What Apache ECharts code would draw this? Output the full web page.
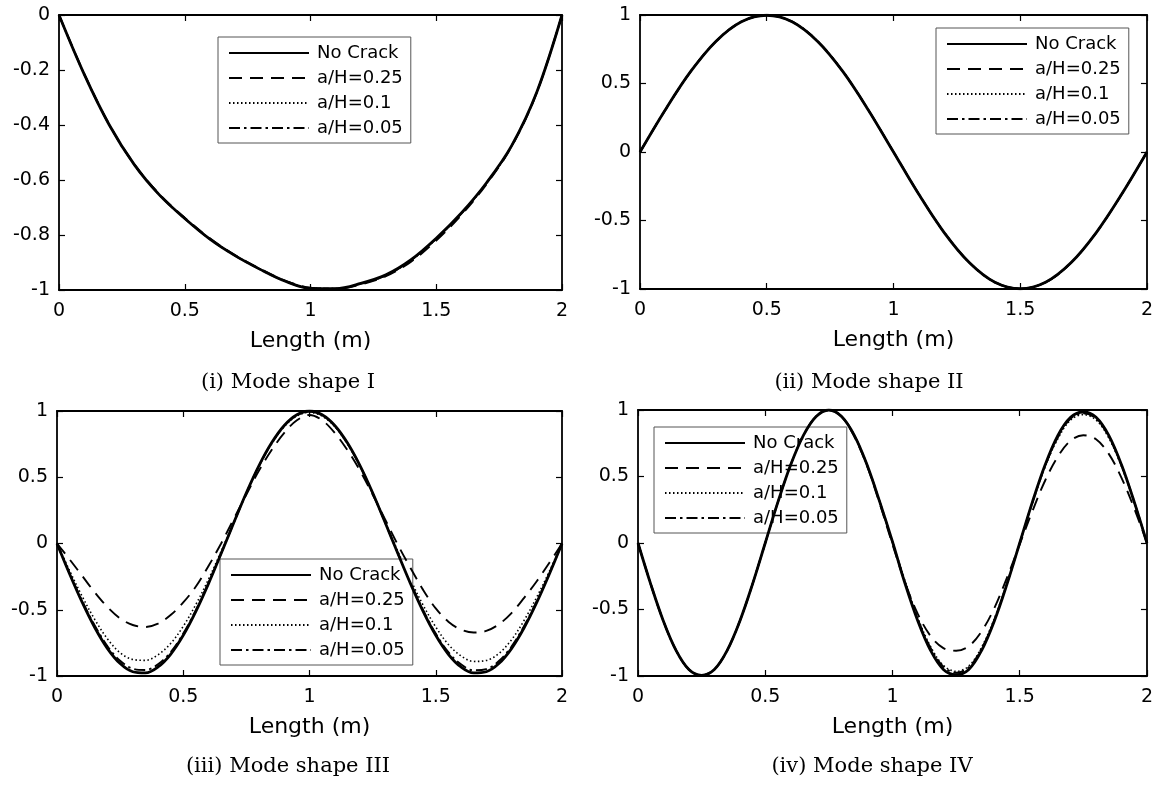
<!DOCTYPE html>
<html>
<head>
<meta charset="utf-8">
<script src="https://cdn.jsdelivr.net/npm/echarts@6/dist/echarts.min.js"></script>
<style>
html,body{margin:0;padding:0;background:#fff;}
#chart{width:1156px;height:785px;}
</style>
</head>
<body>
<div id="chart"></div>
<script>
// ---------- data ----------
var seriesNames = ['No Crack', 'a/H=0.25', 'a/H=0.1', 'a/H=0.05'];
var xTicks = ['0', '0.5', '1', '1.5', '2'];
var captions = ['(i) Mode shape I', '(ii) Mode shape II', '(iii) Mode shape III', '(iv) Mode shape IV'];
var axisTitle = 'Length (m)';

// positions along the beam (m)
var xCoarse = [0,0.1,0.2,0.3,0.4,0.5,0.6,0.7,0.8,0.9,1.0,1.1,1.2,1.3,1.4,1.5,1.6,1.7,1.8,1.9,2.0];
var xFine = [0,0.05,0.1,0.15,0.2,0.25,0.3,0.35,0.4,0.45,0.5,0.55,0.6,0.65,0.7,0.75,0.8,0.85,0.9,0.95,
             1.0,1.05,1.1,1.15,1.2,1.25,1.3,1.35,1.4,1.45,1.5,1.55,1.6,1.65,1.7,1.75,1.8,1.85,1.9,1.95,2.0];

// Mode shape I (xCoarse)
var m1NoCrack = [0,-0.215,-0.40,-0.545,-0.655,-0.74,-0.815,-0.875,-0.925,-0.968,-0.994,-0.995,-0.976,-0.945,-0.89,-0.812,-0.72,-0.61,-0.475,-0.28,0];
var m1a025    = [0,-0.213,-0.398,-0.543,-0.652,-0.737,-0.812,-0.873,-0.923,-0.966,-0.992,-0.996,-0.98,-0.95,-0.897,-0.82,-0.727,-0.615,-0.478,-0.282,0];
var m1a010    = [0,-0.214,-0.399,-0.544,-0.654,-0.739,-0.814,-0.874,-0.924,-0.967,-0.993,-0.995,-0.978,-0.947,-0.892,-0.814,-0.722,-0.612,-0.476,-0.281,0];
var m1a005    = [0,-0.215,-0.40,-0.545,-0.655,-0.74,-0.815,-0.875,-0.925,-0.968,-0.994,-0.995,-0.977,-0.946,-0.891,-0.813,-0.721,-0.611,-0.475,-0.28,0];

// Mode shape II (xCoarse)
var m2NoCrack = [0,0.309,0.588,0.809,0.951,0.998,0.951,0.809,0.588,0.309,0,-0.309,-0.588,-0.809,-0.951,-0.998,-0.951,-0.809,-0.588,-0.309,0];
var m2a025    = [0,0.307,0.586,0.807,0.95,0.997,0.952,0.811,0.59,0.31,0.002,-0.306,-0.585,-0.807,-0.95,-0.997,-0.952,-0.81,-0.589,-0.31,0];
var m2a010    = [0,0.308,0.587,0.808,0.951,0.998,0.951,0.81,0.589,0.309,0.001,-0.308,-0.587,-0.808,-0.951,-0.998,-0.951,-0.809,-0.588,-0.309,0];
var m2a005    = [0,0.309,0.588,0.809,0.951,0.998,0.951,0.809,0.588,0.309,0,-0.309,-0.588,-0.809,-0.951,-0.998,-0.951,-0.809,-0.588,-0.309,0];

// Mode shape III (xFine)
var m3NoCrack = [0,-0.23,-0.445,-0.636,-0.793,-0.906,-0.968,-0.977,-0.932,-0.836,-0.693,-0.512,-0.303,-0.076,0.156,0.383,0.588,0.76,0.891,0.972,
                 1.0,0.972,0.891,0.76,0.588,0.383,0.156,-0.076,-0.303,-0.512,-0.693,-0.836,-0.932,-0.977,-0.968,-0.906,-0.793,-0.636,-0.445,-0.23,0];
var m3a025    = [0,-0.12,-0.245,-0.37,-0.48,-0.565,-0.615,-0.63,-0.605,-0.54,-0.445,-0.325,-0.17,0.0,0.185,0.37,0.55,0.705,0.835,0.93,
                 0.97,0.93,0.835,0.705,0.55,0.37,0.18,-0.01,-0.185,-0.35,-0.49,-0.59,-0.65,-0.672,-0.66,-0.61,-0.525,-0.41,-0.285,-0.145,0];
var m3a010    = [0,-0.205,-0.40,-0.575,-0.72,-0.825,-0.875,-0.882,-0.84,-0.755,-0.625,-0.46,-0.27,-0.06,0.16,0.38,0.582,0.752,0.882,0.962,
                 0.99,0.962,0.882,0.752,0.582,0.38,0.16,-0.06,-0.272,-0.465,-0.63,-0.762,-0.848,-0.89,-0.883,-0.83,-0.727,-0.58,-0.405,-0.21,0];
var m3a005    = [0,-0.225,-0.435,-0.62,-0.775,-0.885,-0.945,-0.955,-0.912,-0.82,-0.68,-0.503,-0.298,-0.074,0.155,0.381,0.586,0.757,0.888,0.97,
                 0.998,0.97,0.888,0.757,0.586,0.381,0.155,-0.074,-0.298,-0.503,-0.68,-0.82,-0.912,-0.957,-0.948,-0.887,-0.777,-0.622,-0.436,-0.226,0];

// Mode shape IV (xFine)
var m4NoCrack = [0,-0.309,-0.588,-0.809,-0.951,-0.995,-0.951,-0.809,-0.588,-0.309,0,0.309,0.588,0.809,0.951,1.0,0.951,0.809,0.588,0.309,
                 0.01,-0.309,-0.588,-0.809,-0.951,-0.99,-0.951,-0.809,-0.588,-0.309,0,0.309,0.588,0.809,0.945,0.985,0.945,0.809,0.588,0.309,0];
var m4a025    = [0,-0.309,-0.588,-0.809,-0.951,-0.995,-0.951,-0.809,-0.588,-0.309,0,0.309,0.588,0.809,0.951,1.0,0.951,0.80,0.58,0.295,
                 -0.01,-0.30,-0.535,-0.70,-0.79,-0.81,-0.775,-0.665,-0.49,-0.26,-0.01,0.24,0.47,0.65,0.77,0.81,0.78,0.67,0.49,0.26,0];
var m4a010    = [0,-0.309,-0.588,-0.809,-0.951,-0.995,-0.951,-0.809,-0.588,-0.309,0,0.309,0.588,0.809,0.951,1.0,0.951,0.809,0.585,0.305,
                 0.01,-0.29,-0.565,-0.78,-0.92,-0.965,-0.925,-0.785,-0.57,-0.30,0.0,0.30,0.575,0.785,0.925,0.965,0.925,0.79,0.575,0.305,0];
var m4a005    = [0,-0.309,-0.588,-0.809,-0.951,-0.995,-0.951,-0.809,-0.588,-0.309,0,0.309,0.588,0.809,0.951,1.0,0.951,0.809,0.587,0.31,
                 0.005,-0.30,-0.575,-0.79,-0.93,-0.975,-0.935,-0.795,-0.58,-0.305,0,0.305,0.58,0.795,0.935,0.975,0.935,0.80,0.585,0.31,0];

// ---------- build ----------
var panels = [
  {x: xCoarse, ys: [m1NoCrack, m1a025, m1a010, m1a005], yMin: -1, yMax: 0, yInt: 0.2,
   grid: {left: 59, top: 15, width: 503, height: 275}, legend: {left: 218, top: 37},
   cap: {x: 288, y: 383}},
  {x: xCoarse, ys: [m2NoCrack, m2a025, m2a010, m2a005], yMin: -1, yMax: 1, yInt: 0.5,
   grid: {left: 640, top: 15, width: 511, height: 274}, legend: {left: 936, top: 28},
   cap: {x: 869, y: 383}},
  {x: xFine, ys: [m3NoCrack, m3a025, m3a010, m3a005], yMin: -1, yMax: 1, yInt: 0.5,
   grid: {left: 57, top: 411, width: 505, height: 265}, legend: {left: 220, top: 559},
   cap: {x: 288, y: 767}},
  {x: xFine, ys: [m4NoCrack, m4a025, m4a010, m4a005], yMin: -1, yMax: 1, yInt: 0.5,
   grid: {left: 638, top: 410, width: 514, height: 266}, legend: {left: 654, top: 427},
   cap: {x: 872, y: 767}}
];

var lineStyles = [
  {type: 'solid', width: 2.8},
  {type: [13, 8], width: 1.9},
  {type: [1.5, 2.5], width: 1.6},
  {type: [11, 4, 2.5, 4], width: 1.9}
];

var FONT = '"DejaVu Sans", sans-serif';
var grids = [], xAxes = [], yAxes = [], series = [], legends = [], graphics = [];

panels.forEach(function (p, i) {
  grids.push(Object.assign({containLabel: false}, p.grid));
  var axLine = {show: true, onZero: false, lineStyle: {color: '#000', width: 1.8}};
  var tick = {show: true, inside: true, length: 6, lineStyle: {color: '#000', width: 1.2}};
  xAxes.push({
    type: 'value', gridIndex: i, position: 'bottom', min: 0, max: 2, interval: 0.5,
    axisLine: axLine, axisTick: tick, splitLine: {show: false},
    axisLabel: {color: '#000', fontSize: 19, fontFamily: FONT, margin: 12,
      formatter: function (v) { return xTicks[Math.round(v / 0.5)]; }},
    name: axisTitle, nameLocation: 'middle', nameGap: 40,
    nameTextStyle: {color: '#000', fontSize: 22, fontFamily: FONT}
  });
  xAxes.push({
    type: 'value', gridIndex: i, position: 'top', min: 0, max: 2, interval: 0.5,
    axisLine: axLine, axisTick: tick, axisLabel: {show: false}, splitLine: {show: false}
  });
  yAxes.push({
    type: 'value', gridIndex: i, position: 'left', min: p.yMin, max: p.yMax, interval: p.yInt,
    axisLine: axLine, axisTick: tick, splitLine: {show: false},
    axisLabel: {color: '#000', fontSize: 19, fontFamily: FONT, margin: 9}
  });
  yAxes.push({
    type: 'value', gridIndex: i, position: 'right', min: p.yMin, max: p.yMax, interval: p.yInt,
    axisLine: axLine, axisTick: tick, axisLabel: {show: false}, splitLine: {show: false}
  });
  p.ys.forEach(function (vals, k) {
    series.push({
      name: seriesNames[k], type: 'line', xAxisIndex: 2 * i, yAxisIndex: 2 * i,
      data: p.x.map(function (xv, j) { return [xv, vals[j]]; }),
      smooth: 0.35, symbol: 'none', showSymbol: false, animation: false, z: 2 + (3 - k),
      itemStyle: {color: '#000', opacity: 0},
      lineStyle: Object.assign({color: '#000', opacity: 1}, lineStyles[k])
    });
  });
  legends.push({
    orient: 'vertical', left: p.legend.left, top: p.legend.top,
    padding: [6, 8, 5, 10], itemWidth: 80, itemHeight: 14, itemGap: 5,
    backgroundColor: '#fff', borderColor: '#555', borderWidth: 1, borderRadius: 0,
    selectedMode: false, data: seriesNames,
    itemStyle: {opacity: 0},
    lineStyle: {opacity: 1},
    textStyle: {color: '#000', fontSize: 18, fontFamily: FONT, lineHeight: 20, padding: [0, 0, 0, 3]}
  });
  graphics.push({
    type: 'text', x: p.cap.x, y: p.cap.y,
    style: {text: captions[i], fill: '#000', font: '21px "DejaVu Serif", serif',
      textAlign: 'center', textVerticalAlign: 'middle'}
  });
});

var chart = echarts.init(document.getElementById('chart'), null, {renderer: 'canvas'});
chart.setOption({
  backgroundColor: '#fff',
  animation: false,
  grid: grids, xAxis: xAxes, yAxis: yAxes, series: series, legend: legends, graphic: graphics
});
</script>
</body>
</html>
